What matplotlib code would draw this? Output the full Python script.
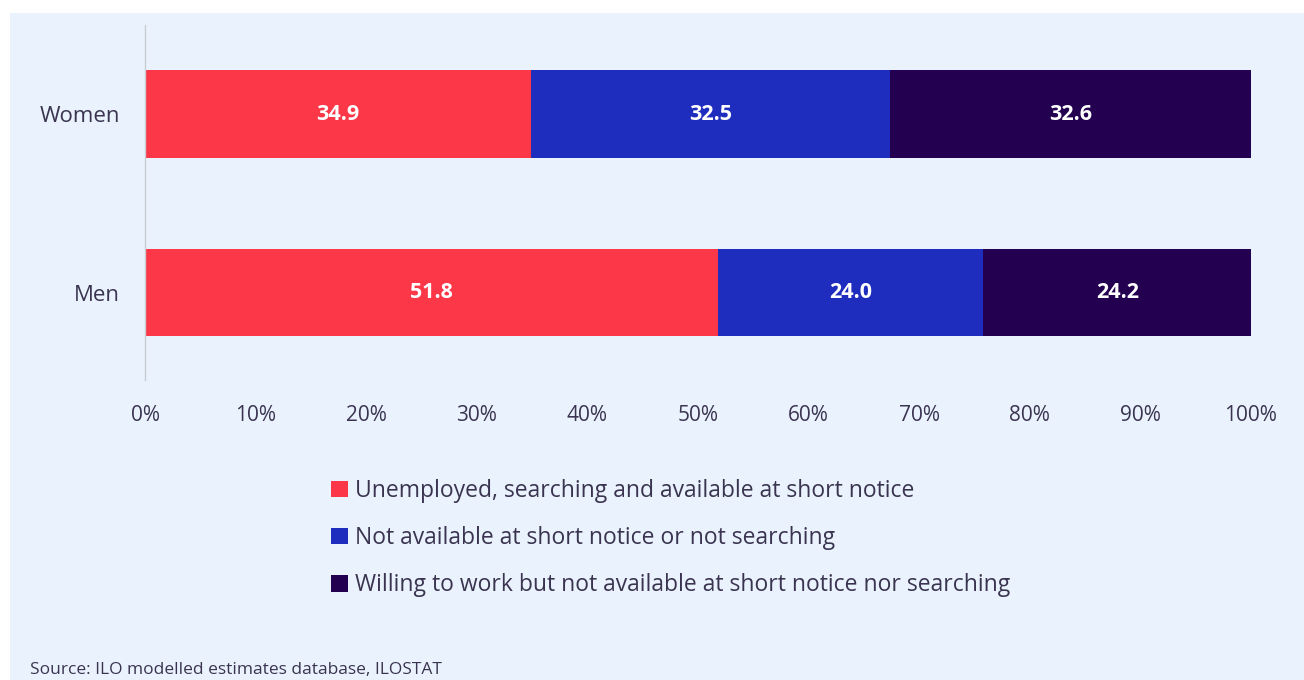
import matplotlib
matplotlib.use("Agg")
import matplotlib.pyplot as plt
from matplotlib.patches import Rectangle
import numpy as np

categories = ["Men", "Women"]
series_names = [
    "Unemployed, searching and available at short notice",
    "Not available at short notice or not searching",
    "Willing to work but not available at short notice nor searching",
]
unemployed = [51.8, 34.9]
not_available = [24.0, 32.5]
willing = [24.2, 32.6]
xtick_values = [0, 10, 20, 30, 40, 50, 60, 70, 80, 90, 100]
xtick_labels = ["0%", "10%", "20%", "30%", "40%", "50%", "60%", "70%", "80%", "90%", "100%"]
source = "Source: ILO modelled estimates database, ILOSTAT"

colors = ["#FB3748", "#1F2DBE", "#230050"]
bg = "#EAF3FD"
text_color = "#3A3450"

plt.rcParams['font.family'] = ['Open Sans', 'DejaVu Sans']

fig = plt.figure(figsize=(13.04, 6.80), dpi=100)
fig.patch.set_facecolor("white")
fig.patches.append(Rectangle((10 / 1304, 0), 1 - 10 / 1304, 1 - 13 / 680,
                             transform=fig.transFigure, facecolor=bg,
                             edgecolor="none", zorder=-10))

ax = fig.add_axes([145 / 1304, 1 - 380 / 680, (1251 - 145) / 1304, (380 - 25) / 680])
ax.set_facecolor("none")

y = np.arange(len(categories))
left = np.zeros(len(categories))
for vals, col in zip([unemployed, not_available, willing], colors):
    ax.barh(y, vals, left=left, height=0.49, color=col, edgecolor="none")
    for yi, l, v in zip(y, left, vals):
        ax.text(l + v / 2, yi, f"{v:.1f}", ha="center", va="center",
                color="white", fontsize=15.5, fontweight="bold")
    left = left + np.array(vals)

ax.set_xlim(0, 100)
ax.set_ylim(-0.49, 1.5)
ax.set_xticks(xtick_values)
ax.set_xticklabels(xtick_labels, fontsize=15, color=text_color)
ax.set_yticks(y)
ax.set_yticklabels(categories, fontsize=16, color=text_color)
ax.tick_params(axis="both", length=0)
ax.tick_params(axis="x", pad=18)
ax.tick_params(axis="y", pad=18)
for s in ["top", "right", "bottom"]:
    ax.spines[s].set_visible(False)
ax.spines["left"].set_color("#C8CCD4")
ax.spines["left"].set_linewidth(1)

handles = [Rectangle((0, 0), 1, 1, facecolor=c, edgecolor="none") for c in colors]
leg = fig.legend(handles, series_names, loc="upper left",
                 bbox_to_anchor=(331 / 1304, 1 - 479 / 680),
                 frameon=False, fontsize=16.5, handlelength=0.73, handleheight=0.73,
                 handletextpad=0.3, labelspacing=1.01, borderaxespad=0,
                 borderpad=0)
for t in leg.get_texts():
    t.set_color(text_color)

fig.text(30 / 1304, 1 - 670 / 680, source, fontsize=12.5, color=text_color,
         ha="left", va="center")

fig.savefig("out.png", dpi=100, facecolor=fig.get_facecolor())
